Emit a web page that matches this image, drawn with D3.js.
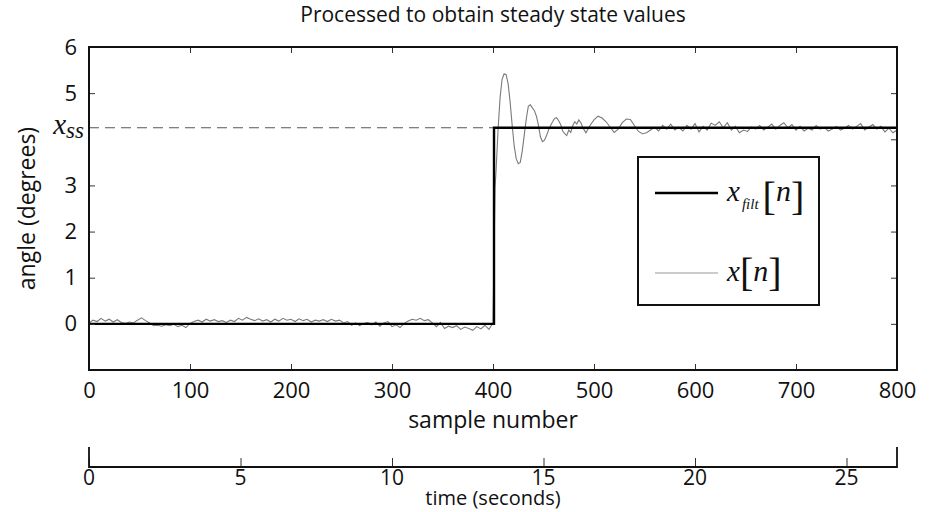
<!DOCTYPE html>
<html>
<head>
<meta charset="utf-8">
<script src="https://cdn.jsdelivr.net/npm/d3@7"></script>
<style>
  body { margin: 0; background: #fff; }
  text { font-family: "Open Sans", "DejaVu Sans", sans-serif; fill: #111; }
  .math { font-family: "Liberation Serif", "DejaVu Serif", serif; }
</style>
</head>
<body>
<div id="chart"></div>
<script>
// sample axis ticks
const sampleTicks = [0, 100, 200, 300, 400, 500, 600, 700, 800];
const angleTicks = [0, 1, 2, 3, 5, 6];
const timeTicks = [0, 5, 10, 15, 20, 25];
const sampleRate = 30;      // samples per second
const xss = 4.25;           // steady state value

// raw signal, before the step (every 4 samples from 0)
const lowStart = 0;
const lowRaw = [0.02, 0.08, 0.05, 0.12, 0.06, 0.1, 0.04, 0.09, 0.03, 0.01,
  0.04, 0.02, 0.08, 0.13, 0.07, 0.02, -0.04, -0.03, -0.05, -0.02,
  -0.04, -0.01, -0.06, -0.03, -0.08, 0.01, 0.05, 0.08, 0.04, 0.1,
  0.06, 0.09, 0.05, 0.07, 0.03, 0.08, 0.05, 0.12, 0.08, 0.14,
  0.1, 0.07, 0.11, 0.06, 0.09, 0.04, 0.1, 0.06, 0.12, 0.08,
  0.1, 0.05, 0.11, 0.07, 0.1, 0.04, 0.08, 0.06, 0.09, 0.05,
  0.1, 0.06, 0.08, 0.02, 0.05, -0.03, 0.02, -0.04, 0.01, 0.03,
  -0.02, 0.04, -0.05, 0.02, 0.05, -0.06, -0.02, -0.08, 0.01, 0.06,
  0.1, 0.08, 0.12, 0.07, 0.09, 0.02, -0.06, 0.03, -0.1, -0.05,
  -0.08, -0.04, -0.12, -0.07, -0.1, -0.14, -0.06, -0.11, -0.03, -0.12];

// transient right after the step (sample, angle)
const stepSamples = [400, 401, 402, 403, 405, 407, 409, 411, 413, 415, 417, 419, 421, 423, 425, 427, 429,
  431, 433, 435, 437, 439, 441, 443, 445, 447, 449, 451, 453, 455, 457, 459, 461, 463, 465, 467, 469,
  471, 473, 475, 477, 479, 481, 483, 485, 487, 489];
const stepRaw = [0.02, 1.5, 2.95, 3.3, 4.2, 4.9, 5.3, 5.42, 5.4, 5.2, 4.8, 4.3, 3.85, 3.58, 3.47, 3.5, 3.75,
  4.1, 4.45, 4.72, 4.75, 4.68, 4.62, 4.5, 4.3, 4.05, 3.95, 3.98, 4.08, 4.2, 4.3, 4.38, 4.45, 4.47, 4.4, 4.32, 4.18,
  4.12, 4.08, 4.2, 4.15, 4.3, 4.38, 4.33, 4.42, 4.36, 4.25];

// settled part (every 4 samples from 492)
const highStart = 492;
const highRaw = [4.14, 4.3, 4.42, 4.5, 4.46, 4.38, 4.26, 4.15, 4.22, 4.36,
  4.44, 4.43, 4.3, 4.17, 4.12, 4.14, 4.2, 4.26, 4.18, 4.3,
  4.22, 4.33, 4.2, 4.26, 4.18, 4.3, 4.22, 4.34, 4.16, 4.28,
  4.2, 4.35, 4.3, 4.38, 4.25, 4.36, 4.2, 4.28, 4.14, 4.2,
  4.17, 4.27, 4.22, 4.3, 4.2, 4.26, 4.33, 4.22, 4.3, 4.36,
  4.25, 4.32, 4.2, 4.28, 4.18, 4.24, 4.2, 4.3, 4.22, 4.26,
  4.18, 4.22, 4.28, 4.2, 4.24, 4.3, 4.22, 4.28, 4.34, 4.2,
  4.26, 4.32, 4.22, 4.28, 4.16, 4.24, 4.14, 4.2];

// filtered signal
const filtSamples = [0, 401, 401, 800];
const filtAngles = [0, 0, xss, xss];

const W = 933, H = 512;
const M = { left: 89, right: 36, top: 47, bottom: 142 };
const plotW = W - M.left - M.right;
const plotH = H - M.top - M.bottom;
const FS = "22px";

const svg = d3.select("#chart").append("svg")
  .attr("width", W).attr("height", H);

const x = d3.scaleLinear().domain([0, 800]).range([0, plotW]);
const y = d3.scaleLinear().domain([-1, 6]).range([plotH, 0]);

const g = svg.append("g").attr("transform", `translate(${M.left},${M.top})`);

svg.append("defs").append("clipPath").attr("id", "clip")
  .append("rect").attr("width", plotW).attr("height", plotH);

// raw points assembled from the arrays
const raw = [];
lowRaw.forEach((v, i) => raw.push([lowStart + i * 4, v]));
stepSamples.forEach((n, i) => raw.push([n, stepRaw[i]]));
highRaw.forEach((v, i) => raw.push([highStart + i * 4, v]));

const line = d3.line().x(d => x(d[0])).y(d => y(d[1]));

const data = g.append("g").attr("clip-path", "url(#clip)");

// dashed steady state line
data.append("line")
  .attr("x1", 0).attr("x2", plotW)
  .attr("y1", y(xss)).attr("y2", y(xss))
  .attr("stroke", "#555").attr("stroke-width", 1.2)
  .attr("stroke-dasharray", "10,6");

data.append("path").datum(raw)
  .attr("d", line)
  .attr("fill", "none").attr("stroke", "#7a7a7a").attr("stroke-width", 1.1);

data.append("path").datum(filtSamples.map((n, i) => [n, filtAngles[i]]))
  .attr("d", line)
  .attr("fill", "none").attr("stroke", "#000").attr("stroke-width", 2.4);

// axes (ticks pointing inward on all four sides)
const tickStyle = sel => {
  sel.select(".domain").remove();
  sel.selectAll(".tick line").attr("stroke", "#333").attr("stroke-width", 1);
  sel.selectAll(".tick text").style("font-size", FS).attr("fill", "#111");
};

g.append("g").attr("transform", `translate(0,${plotH})`)
  .call(d3.axisBottom(x).tickValues(sampleTicks).tickSize(-6).tickPadding(12).tickFormat(d3.format("d")))
  .call(tickStyle);
g.append("g")
  .call(d3.axisTop(x).tickValues(sampleTicks).tickSize(-6).tickFormat(""))
  .call(tickStyle);
g.append("g")
  .call(d3.axisLeft(y).tickValues(angleTicks).tickSize(-6).tickPadding(12).tickFormat(d3.format("d")))
  .call(tickStyle);
g.append("g").attr("transform", `translate(${plotW},0)`)
  .call(d3.axisRight(y).tickValues(angleTicks.concat([4])).tickSize(-6).tickFormat(""))
  .call(tickStyle);

g.append("rect").attr("width", plotW).attr("height", plotH)
  .attr("fill", "none").attr("stroke", "#111").attr("stroke-width", 2);

// x_ss label
const xssLabel = g.append("text").attr("class", "math")
  .attr("x", -5).attr("y", y(xss) + 6)
  .attr("text-anchor", "end").style("font-style", "italic");
xssLabel.append("tspan").style("font-size", "29px").text("x");
xssLabel.append("tspan").attr("dy", 4).style("font-size", "23px").text("ss");

// titles
svg.append("text").attr("x", M.left + plotW / 2).attr("y", 22)
  .attr("text-anchor", "middle").style("font-size", "21px")
  .text("Processed to obtain steady state values");
svg.append("text").attr("x", M.left + plotW / 2).attr("y", 428)
  .attr("text-anchor", "middle").style("font-size", "23px").text("sample number");
svg.append("text")
  .attr("transform", `translate(35,${M.top + plotH / 2}) rotate(-90)`)
  .attr("text-anchor", "middle").style("font-size", "23px").text("angle (degrees)");

// legend
const lg = svg.append("g");
lg.append("rect").attr("x", 638).attr("y", 157).attr("width", 181).attr("height", 148)
  .attr("fill", "#fff").attr("stroke", "#111").attr("stroke-width", 2);
lg.append("line").attr("x1", 655).attr("x2", 718).attr("y1", 193).attr("y2", 193)
  .attr("stroke", "#000").attr("stroke-width", 2.4);
lg.append("line").attr("x1", 655).attr("x2", 718).attr("y1", 273).attr("y2", 273)
  .attr("stroke", "#bbb").attr("stroke-width", 1.5);

const l1 = lg.append("text").attr("class", "math").attr("x", 727).attr("y", 201);
l1.append("tspan").style("font-size", "29px").style("font-style", "italic").text("x");
l1.append("tspan").attr("dy", 8).attr("dx", 2).style("font-size", "15px").style("font-style", "italic").text("filt");
l1.append("tspan").attr("dy", 1).attr("dx", 4).style("font-size", "40px").text("[");
l1.append("tspan").attr("dy", -9).style("font-size", "30px").style("font-style", "italic").text("n");
l1.append("tspan").attr("dy", 9).style("font-size", "40px").text("]");

const l2 = lg.append("text").attr("class", "math").attr("x", 727).attr("y", 281);
l2.append("tspan").style("font-size", "29px").style("font-style", "italic").text("x");
l2.append("tspan").attr("dy", 5).style("font-size", "40px").text("[");
l2.append("tspan").attr("dy", -5).style("font-size", "30px").style("font-style", "italic").text("n");
l2.append("tspan").attr("dy", 5).style("font-size", "40px").text("]");

// time axis below
const t = d3.scaleLinear().domain([0, 800 / sampleRate]).range([M.left, M.left + plotW]);
const timeY = 467;
const tg = svg.append("g").attr("transform", `translate(0,${timeY})`);
tg.call(d3.axisTop(t).tickValues(timeTicks).tickSize(9).tickFormat(""))
  .call(s => s.select(".domain").remove())
  .call(s => s.selectAll(".tick line").attr("stroke", "#333"));
tg.append("path")
  .attr("d", `M${t(0)},-20V0H${t(800 / sampleRate)}V-20`)
  .attr("fill", "none").attr("stroke", "#111").attr("stroke-width", 1.8);
tg.selectAll(".tlabel").data(timeTicks).join("text")
  .attr("class", "tlabel")
  .attr("x", d => t(d)).attr("y", 18)
  .attr("text-anchor", "middle").style("font-size", "21px")
  .text(d => d);
svg.append("text").attr("x", M.left + plotW / 2).attr("y", 505)
  .attr("text-anchor", "middle").style("font-size", "20px").text("time (seconds)");
</script>
</body>
</html>
